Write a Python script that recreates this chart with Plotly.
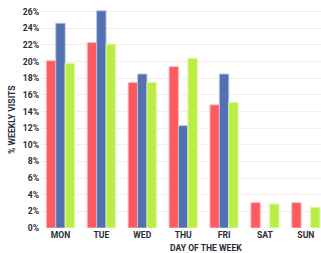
import plotly.graph_objects as go

days = ["MON", "TUE", "WED", "THU", "FRI", "SAT", "SUN"]
series_a = [20.1, 22.3, 17.5, 19.4, 14.8, 3.05, 3.05]
series_b = [24.6, 26.1, 18.5, 12.3, 18.5, None, None]
series_c = [19.8, 22.1, 17.5, 20.4, 15.1, 2.9, 2.5]
y_ticks = list(range(0, 27, 2))
y_labels = [f"{v}%" for v in y_ticks]

colors = ["#FF5A60", "#5371B1", "#BBEE44"]
borders = ["rgba(255,190,192,0.9)", "rgba(180,195,225,0.9)", "rgba(225,248,180,0.9)"]

fig = go.Figure()
for vals, c, b in zip([series_a, series_b, series_c], colors, borders):
    fig.add_trace(go.Bar(x=days, y=vals, marker=dict(color=c, line=dict(color=b, width=1))))

tf = dict(family="Roboto, Arial, sans-serif", size=8.6, color="#2b2b3a", weight="bold")
fig.update_layout(
    width=321, height=253,
    margin=dict(l=40, r=0, t=10, b=25),
    paper_bgcolor="white", plot_bgcolor="white",
    showlegend=False, barmode="group", bargap=0.31, bargroupgap=0,
    font=tf,
    xaxis=dict(range=[-0.5, 6.37], showgrid=False, zeroline=False, showline=False,
               ticks="", automargin=False, tickfont=tf),
    yaxis=dict(range=[0, 26.2], tickvals=y_ticks, ticktext=y_labels, showgrid=True,
               gridcolor="#fbe9ec", gridwidth=1, zeroline=False, showline=False, ticks="",
               automargin=False, tickfont=tf),
    annotations=[
        dict(text="DAY OF THE WEEK", x=0.59, y=-0.092, xref="paper", yref="paper",
             xanchor="center", yanchor="middle", showarrow=False, font=tf),
        dict(text="% WEEKLY VISITS", x=-0.1, y=0.5, xref="paper", yref="paper",
             xanchor="center", yanchor="middle", showarrow=False, textangle=-90, font=tf),
    ],
)
fig.write_html("out.html", config={"displayModeBar": False},
               post_script="document.body.style.margin='0';document.body.style.overflow='hidden';")
